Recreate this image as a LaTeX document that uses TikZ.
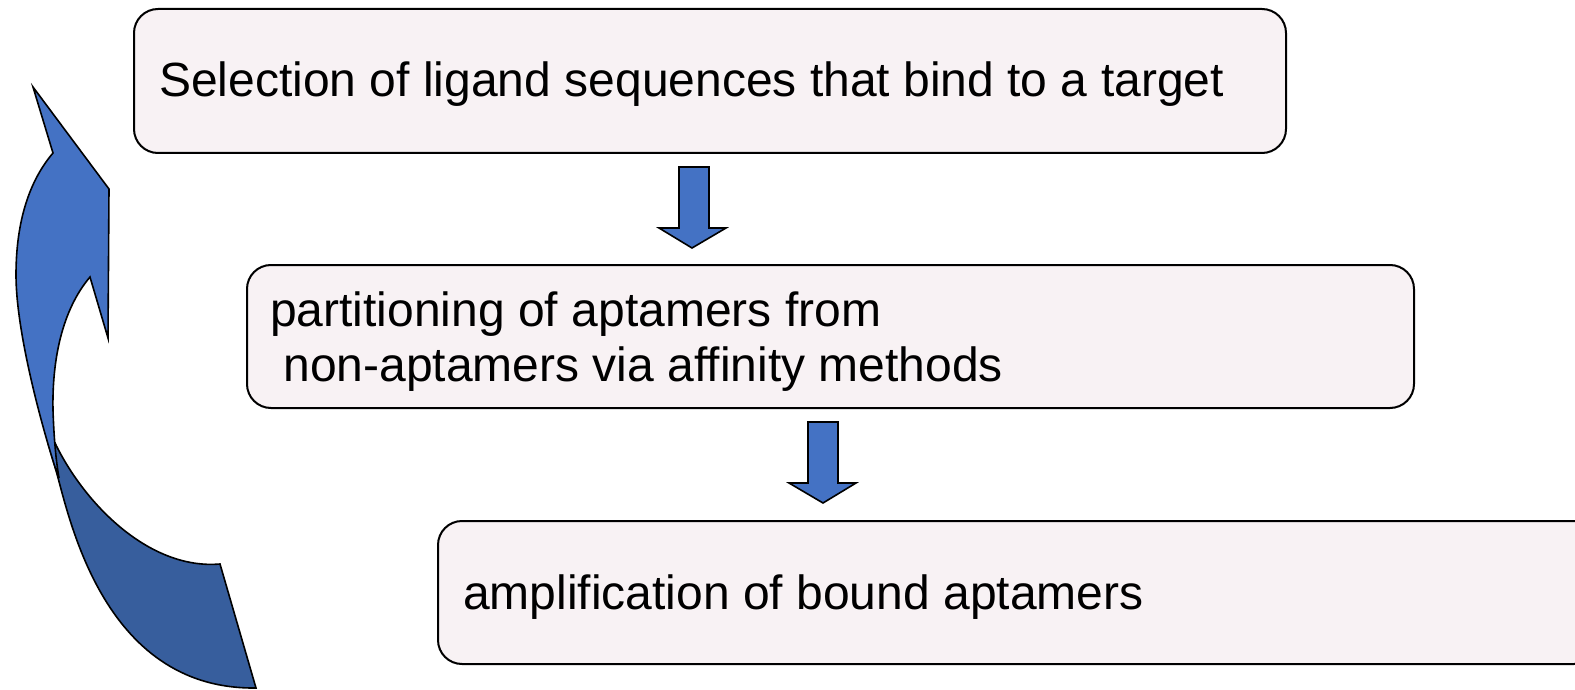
\documentclass[tikz,border=0pt]{standalone}
\usepackage{fontspec}
\setmainfont{Liberation Sans}
\definecolor{boxfill}{RGB}{248,242,244}
\definecolor{arrowblue}{RGB}{68,114,196}
\definecolor{arrowdark}{RGB}{55,94,157}
\begin{document}
\begin{tikzpicture}[x=1pt,y=-1pt,
  stepbox/.style={draw=black, line width=2pt, fill=boxfill, rounded corners=24pt,
    rectangle, inner sep=0pt, anchor=north west},
  lbl/.style={inner sep=0pt, anchor=base west, text=black,
    font=\fontsize{48pt}{55pt}\selectfont},
  blockarrow/.style={draw=black, line width=1.6pt, fill=arrowblue, line join=miter},
  curvefront/.style={draw=black, line width=1.6pt, fill=arrowblue, line join=miter},
  curveback/.style={draw=black, line width=1.6pt, fill=arrowdark, line join=miter}]
\useasboundingbox (0,0) rectangle (1575,690);
\clip (0,0) rectangle (1575,690);
\fill[white] (0,0) rectangle (1575,690);

% boxes
\node[stepbox, minimum width=1152pt, minimum height=144pt] (b1) at (133,8) {};
\node[stepbox, minimum width=1167pt, minimum height=143pt] (b2) at (246,264) {};
\node[stepbox, minimum width=1160pt, minimum height=143pt] (b3) at (437,520) {};

% texts
\node[lbl] (t1) at (159,97) {Selection of ligand sequences that bind to a target};
\node[lbl] (t2a) at (270,326) {partitioning of aptamers from};
\node[lbl] (t2b) at (270,381) {\ non-aptamers via affinity methods};
\node[lbl] (t3) at (463,609) {amplification of bound aptamers};

% down block arrows
\draw[blockarrow] (679,167) -- (709,167) -- (709,228) -- (726,228) -- (692,248)
  -- (659,228) -- (679,228) -- cycle;
\draw[blockarrow] (808,422) -- (838,422) -- (838,483) -- (856,483) -- (823,503)
  -- (789,483) -- (808,483) -- cycle;

% curved return arrow: back (dark) part
\draw[curveback] (55,443) .. controls (85,505) and (150,570) .. (220,564)
  -- (256,688) .. controls (100,690) and (68,510) .. (55,467)
  -- (48,443) -- cycle;

% curved return arrow: front (light) part with head
\draw[curvefront] (33,87) -- (109,189) -- (108,338) -- (90,277)
  .. controls (62,310) and (52,360) .. (53,410)
  .. controls (54,440) and (56,460) .. (59,478)
  -- (55,467)
  .. controls (40,420) and (16,330) .. (16,275)
  .. controls (16,220) and (30,180) .. (53,153)
  -- cycle;
\end{tikzpicture}
\end{document}
